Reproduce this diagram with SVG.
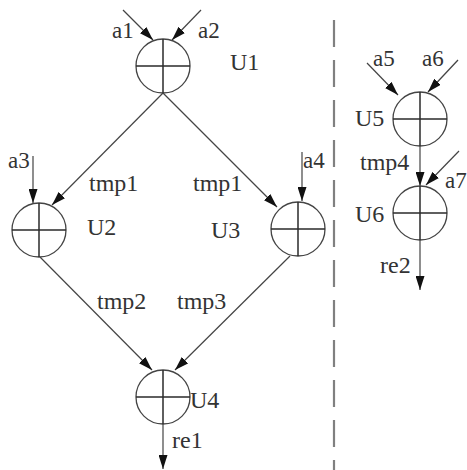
<svg xmlns="http://www.w3.org/2000/svg" width="467" height="470" viewBox="0 0 467 470" font-family="'Liberation Serif', 'Times New Roman', Times, serif">
<style>
text{font-family:'Liberation Serif','Times New Roman',Times,serif}
.lbl{font-size:24px;fill:#333}
.sm{font-size:23px}
.ln{stroke:#444;stroke-width:1.2;fill:none}
.circ{stroke:#444;stroke-width:1.3;fill:#fff}
.cross{stroke:#2a2a2a;stroke-width:1.5}
.dash{stroke:#808080;stroke-width:2.2;stroke-dasharray:27 13}
</style>
<defs>
<marker id="ah" viewBox="0 0 14 9" refX="14" refY="4.5" markerWidth="14" markerHeight="9" markerUnits="userSpaceOnUse" orient="auto">
<path d="M0,0 L14,4.5 L0,9 z" fill="#111"/>
</marker>
</defs>
<rect width="467" height="470" fill="#fff"/>
<line class="dash" x1="334" y1="20" x2="334" y2="470"/>
<g id="connectors">
<line class="ln" x1="123" y1="10" x2="153" y2="40" marker-end="url(#ah)"/>
<line class="ln" x1="201" y1="10" x2="172" y2="40" marker-end="url(#ah)"/>
<line class="ln" x1="163" y1="93" x2="52" y2="205" marker-end="url(#ah)"/>
<line class="ln" x1="163" y1="93" x2="277" y2="207" marker-end="url(#ah)"/>
<line class="ln" x1="33" y1="156" x2="33" y2="203" marker-end="url(#ah)"/>
<line class="ln" x1="302" y1="152" x2="302" y2="201" marker-end="url(#ah)"/>
<line class="ln" x1="40" y1="257" x2="152" y2="370" marker-end="url(#ah)"/>
<line class="ln" x1="290" y1="256" x2="175" y2="370" marker-end="url(#ah)"/>
<line class="ln" x1="163" y1="424" x2="163" y2="469" marker-end="url(#ah)"/>
<line class="ln" x1="367" y1="63" x2="398" y2="95" marker-end="url(#ah)"/>
<line class="ln" x1="458" y1="60" x2="428" y2="92" marker-end="url(#ah)"/>
<line class="ln" x1="420" y1="146" x2="420" y2="186" marker-end="url(#ah)"/>
<line class="ln" x1="459" y1="151" x2="426" y2="185" marker-end="url(#ah)"/>
<line class="ln" x1="420" y1="240" x2="420" y2="290" marker-end="url(#ah)"/>
</g>
<g id="U1">
<circle class="circ" cx="163" cy="66" r="27"/>
<line class="cross" x1="136" y1="66" x2="190" y2="66"/>
<line class="cross" x1="163" y1="39" x2="163" y2="93"/>
<text class="lbl" x="230" y="70">U1</text>
</g>
<g id="U2">
<circle class="circ" cx="39" cy="230" r="27"/>
<line class="cross" x1="12" y1="230" x2="66" y2="230"/>
<line class="cross" x1="39" y1="203" x2="39" y2="257"/>
<text class="lbl" x="87" y="235">U2</text>
</g>
<g id="U3">
<circle class="circ" cx="298" cy="229" r="27"/>
<line class="cross" x1="271" y1="229" x2="325" y2="229"/>
<line class="cross" x1="298" y1="202" x2="298" y2="256"/>
<text class="lbl" x="211" y="238">U3</text>
</g>
<g id="U4">
<circle class="circ" cx="163" cy="397" r="27"/>
<line class="cross" x1="136" y1="397" x2="190" y2="397"/>
<line class="cross" x1="163" y1="370" x2="163" y2="424"/>
<text class="lbl" x="190" y="408">U4</text>
</g>
<g id="U5">
<circle class="circ" cx="420" cy="119" r="27"/>
<line class="cross" x1="393" y1="119" x2="447" y2="119"/>
<line class="cross" x1="420" y1="92" x2="420" y2="146"/>
<text class="lbl" x="355" y="126">U5</text>
</g>
<g id="U6">
<circle class="circ" cx="420" cy="213" r="27"/>
<line class="cross" x1="393" y1="213" x2="447" y2="213"/>
<line class="cross" x1="420" y1="186" x2="420" y2="240"/>
<text class="lbl" x="355" y="222">U6</text>
</g>
<g id="labels">
<text class="lbl sm" x="112" y="38">a1</text>
<text class="lbl sm" x="198" y="38">a2</text>
<text class="lbl sm" x="8" y="168">a3</text>
<text class="lbl sm" x="303" y="168">a4</text>
<text class="lbl sm" x="373" y="66">a5</text>
<text class="lbl sm" x="422" y="66">a6</text>
<text class="lbl sm" x="445" y="188">a7</text>
<text class="lbl" x="89" y="191">tmp1</text>
<text class="lbl" x="193" y="191">tmp1</text>
<text class="lbl" x="97" y="309">tmp2</text>
<text class="lbl" x="177" y="309">tmp3</text>
<text class="lbl" x="360" y="170">tmp4</text>
<text class="lbl" x="172" y="448">re1</text>
<text class="lbl" x="380" y="273">re2</text>
</g>
</svg>
